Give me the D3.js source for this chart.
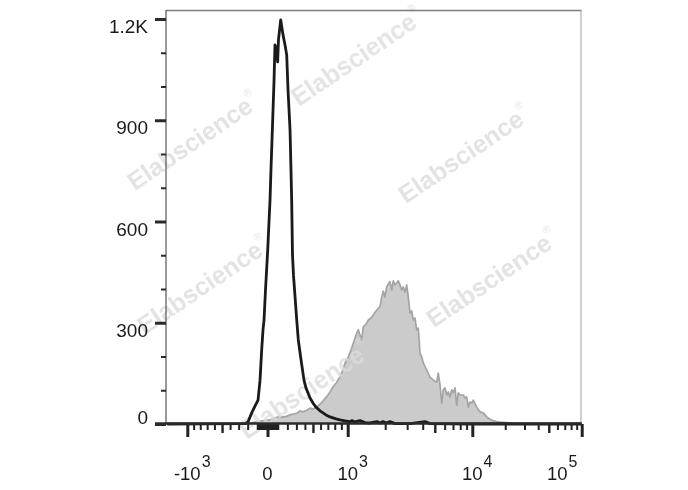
<!DOCTYPE html>
<html><head><meta charset="utf-8">
<script src="https://cdn.jsdelivr.net/npm/d3@7"></script>
<style>html,body{margin:0;padding:0;background:#fff}</style>
</head><body>
<svg id="chart" width="688" height="490"></svg>
<script>
// ---------------- DATA ----------------
const xMajorTicks = [-1000, 0, 1000, 10000, 100000];
const xMajorBase = ["-10", "0", "10", "10", "10"];
const xMajorExp = ["3", "", "3", "4", "5"];
const xMediumTicks = [-500, 500, 5000, 50000];
const xMinorTicks = [-900, -800, -700, -600, -400, -300, -200, -100,
  -90, -80, -70, -60, -50, -40, -30, -20, -10, 10, 20, 30, 40, 50, 60, 70, 80, 90,
  100, 200, 300, 400, 600, 700, 800, 900,
  2000, 3000, 4000, 6000, 7000, 8000, 9000,
  20000, 30000, 40000, 60000, 70000, 80000, 90000];
const yMajorTicks = [0, 300, 600, 900, 1200];
const yMajorLabels = ["0", "300", "600", "900", "1.2K"];
const yMinorTicks = [100, 200, 400, 500, 700, 800, 1000, 1100];

// control (black outline)
const controlX = [-1450, -229, -196, -157, -123, -92, -72, -56, -43, -33, -19, 2, 24, 33, 43, 53, 63, 72, 87, 99, 107, 130, 154, 175, 193, 207, 229, 247, 256, 267, 304, 322, 354, 389, 413, 438, 463, 501, 540, 592, 633, 674, 731, 774, 819, 879, 957, 1043, 1083, 1144, 1255, 1377, 1510, 1719, 1816, 1920, 2030, 2185, 2397, 3162, 4172, 4577, 9583, 100000];
const controlCount = [0, 1, 6, 33, 53, 71, 130, 219, 279, 308, 397, 516, 664, 753, 841, 930, 1019, 1123, 1108, 1073, 1138, 1197, 1153, 1123, 1093, 990, 871, 664, 501, 441, 308, 249, 190, 130, 107, 92, 77, 62, 50, 39, 33, 27, 21, 18, 15, 12, 9, 7, 10, 6, 10, 4, 3, 7, 3, 7, 3, 7, 1, 1, 7, 1, 0, 0];

// stained (grey filled)
const stainedX = [-1450, -196, -123, -53, 24, 72, 123, 175, 229, 304, 342, 377, 422, 463, 501, 549, 592, 633, 684, 731, 779, 819, 879, 910, 957, 1011, 1063, 1109, 1181, 1216, 1255, 1295, 1334, 1403, 1463, 1538, 1605, 1687, 1761, 1816, 1875, 1931, 1993, 2056, 2118, 2185, 2255, 2323, 2397, 2474, 2548, 2629, 2713, 2795, 2884, 2976, 3065, 3162, 3263, 3361, 3469, 3579, 3687, 3804, 3926, 4045, 4305, 4577, 4864, 5179, 5334, 5506, 5682, 5852, 6039, 6232, 6419, 6623, 6834, 7039, 7264, 7498, 7721, 7967, 8468, 8738, 9017, 9288, 9583, 9890, 10213, 10970, 11758, 12605, 13543, 14510, 15461, 16712, 17914, 20626, 23064, 27290, 100000];
const stainedCount = [0, 1, 6, 9, 12, 18, 22, 21, 27, 32, 39, 36, 41, 47, 44, 51, 59, 68, 81, 95, 111, 121, 140, 154, 180, 199, 219, 239, 269, 279, 264, 249, 288, 296, 308, 314, 323, 335, 343, 348, 376, 394, 376, 406, 415, 422, 397, 424, 412, 418, 424, 412, 397, 406, 391, 412, 376, 329, 335, 308, 314, 279, 284, 210, 199, 181, 160, 139, 130, 124, 151, 116, 62, 101, 107, 86, 95, 80, 101, 92, 107, 56, 92, 86, 86, 77, 80, 50, 65, 62, 71, 50, 36, 33, 21, 14, 10, 7, 6, 4, 2, 1, 0];

// ---------------- SCALES ----------------
const FONT = "'Liberation Sans', Arial, Helvetica, sans-serif";
const C = 1400, K = Math.log(1 + 1000 / C);
function u(v) { // biexponential-like display transform
  const a = Math.abs(v), s = Math.sign(v);
  return a <= 1000 ? s * Math.log(1 + a / C) / K : s * (1 + Math.log10(a / 1000));
}
const xLin = d3.scaleLinear().domain([-2, -1, 0, 1, 2, 3]).range([62.7, 187.3, 267.5, 347.7, 472.3, 581.7]);
function makeX() {
  const f = v => xLin(u(v));
  f.copy = makeX;
  f.range = () => [166, 581.7];
  f.domain = () => [-1450, 100000];
  return f;
}
const x = makeX();
const y = d3.scaleLinear().domain([0, 1200]).range([424, 19]);

const svg = d3.select("#chart");
svg.append("rect").attr("width", 688).attr("height", 490).attr("fill", "#fff");

// ---------------- HISTOGRAMS ----------------
const stained = stainedX.map((v, i) => [v, stainedCount[i]]);
const control = controlX.map((v, i) => [v, controlCount[i]]);

svg.append("path").datum(stained)
  .attr("d", d3.area().x(d => x(d[0])).y0(y(0)).y1(d => y(d[1])))
  .attr("fill", "#cbcbcb");
svg.append("path").datum(stained)
  .attr("d", d3.line().x(d => x(d[0])).y(d => y(d[1])))
  .attr("fill", "none").attr("stroke", "#a4a4a4").attr("stroke-width", 1.7)
  .attr("stroke-linejoin", "round");

// watermark
const wm = [[357, 57], [193, 141], [464, 154], [203, 285], [492, 278], [305, 390]];
const wg = svg.append("g").attr("font-family", FONT).attr("font-weight", "bold")
  .attr("fill", "#dcdcdc").attr("opacity", 0.8);
wm.forEach(([cx, cy]) => {
  const t = wg.append("text").attr("transform", `translate(${cx},${cy}) rotate(-34)`)
    .attr("text-anchor", "middle").attr("dominant-baseline", "central")
    .attr("font-size", 25).text("Elabscience");
  t.append("tspan").attr("font-size", 11).attr("font-weight", "normal").attr("dy", -10).text("®");
});

svg.append("path").datum(control)
  .attr("d", d3.line().x(d => x(d[0])).y(d => y(d[1])))
  .attr("fill", "none").attr("stroke", "#1a1a1a").attr("stroke-width", 2.8)
  .attr("stroke-linejoin", "round");

// ---------------- FRAME ----------------
svg.append("line").attr("x1", 166).attr("x2", 581.5).attr("y1", 10.5).attr("y2", 10.5)
  .attr("stroke", "#7d7d7d").attr("stroke-width", 1.6);
svg.append("line").attr("x1", 581).attr("x2", 581).attr("y1", 10).attr("y2", 424)
  .attr("stroke", "#a0a0a0").attr("stroke-width", 1);
svg.append("line").attr("x1", 166).attr("x2", 166).attr("y1", 10).attr("y2", 424)
  .attr("stroke", "#555").attr("stroke-width", 1.2);

// ---------------- Y AXIS ----------------
const yAxisMinor = svg.append("g").attr("transform", "translate(166,0)")
  .call(d3.axisLeft(y).tickValues(yMinorTicks).tickSize(5).tickFormat(() => ""));
yAxisMinor.select(".domain").remove();
yAxisMinor.selectAll("line").attr("stroke", "#2a2a2a").attr("stroke-width", 2);

const yAxis = svg.append("g").attr("transform", "translate(166,0)")
  .call(d3.axisLeft(y).tickValues(yMajorTicks).tickSize(11).tickPadding(7)
    .tickFormat((d, i) => yMajorLabels[i]));
yAxis.select(".domain").remove();
yAxis.selectAll("line").attr("stroke", "#2a2a2a").attr("stroke-width", 3);
yAxis.selectAll("text").attr("font-family", FONT).attr("font-size", 19).attr("fill", "#1a1a1a")
  .attr("dy", d => d === 0 ? "-0.02em" : "0.72em");

// ---------------- X AXIS ----------------
const xAxisG = svg.append("g").attr("transform", "translate(0,424)");
const minorAx = xAxisG.append("g").call(d3.axisBottom(x).tickValues(xMinorTicks).tickSize(6).tickFormat(() => ""));
minorAx.select(".domain").remove();
minorAx.selectAll("line").attr("stroke", "#222").attr("stroke-width", 2);
const medAx = xAxisG.append("g").call(d3.axisBottom(x).tickValues(xMediumTicks).tickSize(9).tickFormat(() => ""));
medAx.select(".domain").remove();
medAx.selectAll("line").attr("stroke", "#222").attr("stroke-width", 2.4);
const majAx = xAxisG.append("g").call(d3.axisBottom(x).tickValues(xMajorTicks).tickSize(13).tickFormat(() => ""));
majAx.select(".domain").remove();
majAx.selectAll("line").attr("stroke", "#222").attr("stroke-width", 3);

svg.append("line").attr("x1", 155).attr("x2", 581.7).attr("y1", 423.5).attr("y2", 423.5)
  .attr("stroke", "#2b2b2b").attr("stroke-width", 2.6);

// x labels (base centred on tick, exponent as superscript)
const xl = svg.append("g").attr("font-family", FONT).attr("fill", "#1a1a1a");
xMajorTicks.forEach((v, i) => {
  const shift = i === xMajorTicks.length - 1 ? -24.5 : 0;
  const cx = x(v) + shift;
  const t = xl.append("text").attr("x", cx).attr("y", 480).attr("text-anchor", "middle")
    .attr("font-size", 18.5).text(xMajorBase[i]);
  if (xMajorExp[i]) {
    const w = t.node().getComputedTextLength();
    xl.append("text").attr("x", cx + w / 2 + 1).attr("y", 467).attr("font-size", 16).text(xMajorExp[i]);
  }
});
</script>
</body></html>
